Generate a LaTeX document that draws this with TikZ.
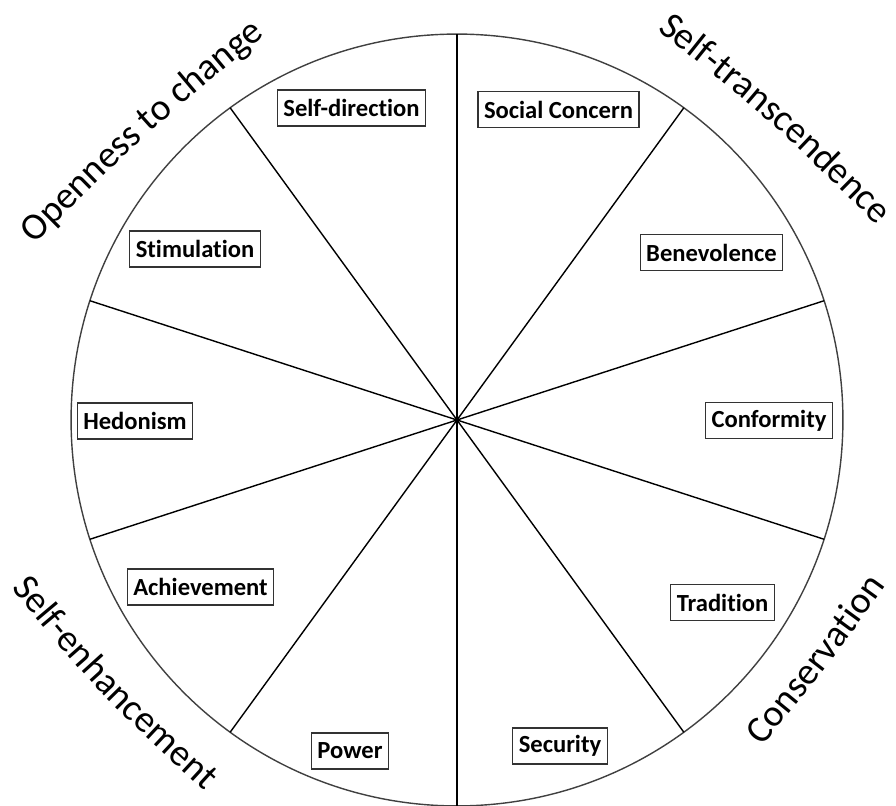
\documentclass[tikz,border=0pt]{standalone}
\usepackage{fontspec}
\setmainfont{Carlito}[Ligatures=NoCommon]
\usetikzlibrary{decorations.text}

\newcommand{\groupfont}{\fontsize{21.5}{24}\selectfont}

\begin{document}
\begin{tikzpicture}[x=0.02cm, y=0.02cm]
      \tikzstyle{value} = [rectangle, draw=black!80, line width=0.7pt, fill=white, inner xsep=3.4pt, minimum height=0.72cm, font=\bfseries\fontsize{14}{16}\selectfont]
      \tikzstyle{spoke} = [line width=0.8pt]
      \tikzstyle{rim} = [draw=black!75, line width=0.8pt]
      \tikzstyle{group} = [decorate, decoration={text along path, text align=center}]

      \useasboundingbox (-457,-385) rectangle (439,420);

      \coordinate (hub) at (0,0);
      \draw [rim] (hub) circle [radius=7.72cm];
      \foreach \a in {90,126,...,414}
        \draw [spoke] (hub) -- (\a:386);

      \node (self-direction) [value] at (-105.5,312) {Self-direction};
      \node (social-concern) [value] at (101.5,310.5) {Social Concern};
      \node (stimulation) [value] at (-262,171) {Stimulation};
      \node (benevolence) [value] at (254.5,167.5) {Benevolence};
      \node (hedonism) [value] at (-322,-1) {Hedonism};
      \node (conformity) [value] at (312,-0.5) {Conformity};
      \node (achievement) [value] at (-256.5,-167) {Achievement};
      \node (tradition) [value] at (265.5,-182.5) {Tradition};
      \node (power) [value] at (-107,-331) {Power};
      \node (security) [value] at (103,-326) {Security};

      \path [group, decoration={text={|\groupfont|Openness to change}}] (-432.6,165.6) .. controls (-312.0,285.7) .. (-180.6,394.0);
      \path [group, decoration={text={|\groupfont|Self-transcendence}}] (186.0,401.2) .. controls (315.5,298.4) .. (432.6,181.8);
      \path [group, decoration={text={|\groupfont|Self-enhancement}}] (-458.7,-153.1) .. controls (-356.0,-276.2) .. (-237.9,-384.5);
      \path [group, decoration={text={|\groupfont|Conservation}}] (293.2,-340.4) .. controls (369.8,-248.0) .. (440.0,-150.6);
\end{tikzpicture}
\end{document}
